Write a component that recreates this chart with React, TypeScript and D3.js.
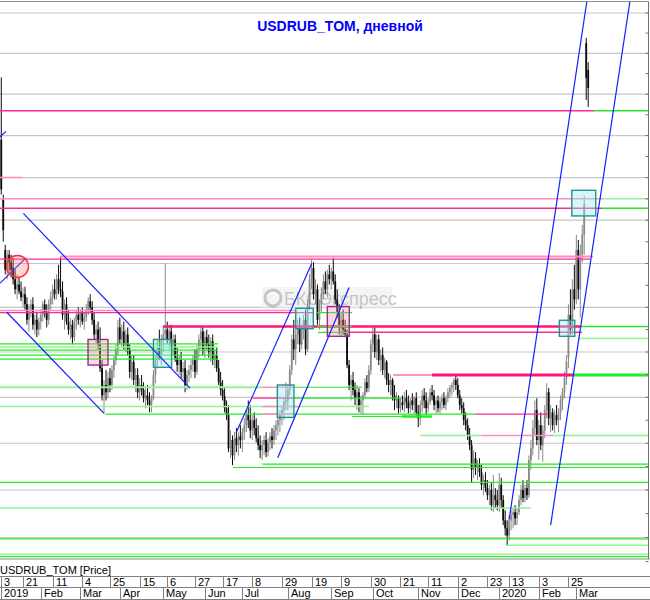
import React from 'react';
import * as d3 from 'd3';

// open, high, low, close (RUB per USD), one entry per trading day
type Bar = [number, number, number, number];

const jan19: Bar[] = [
  [69.90, 71.41, 68.60, 68.72], [68.48, 68.60, 67.50, 67.77], [67.31, 67.43, 66.75, 66.86], [66.90, 67.31, 66.64, 67.20],
  [67.20, 67.31, 66.82, 67.03], [67.03, 67.20, 66.68, 66.86], [66.90, 67.13, 66.52, 66.64], [66.64, 66.86, 66.30, 66.41],
  [66.41, 66.75, 66.18, 66.52], [66.52, 66.68, 66.30, 66.36], [66.36, 66.59, 66.14, 66.23], [66.23, 66.45, 66.00, 66.30],
  [66.30, 66.47, 65.95, 66.07], [66.07, 66.23, 65.61, 65.72], [65.72, 66.07, 65.46, 65.95], [65.95, 66.18, 65.77, 66.07],
  [66.07, 66.23, 65.50, 65.61], [65.61, 65.83, 65.39, 65.72], [65.72, 65.90, 65.33, 65.50], [65.50, 65.77, 65.37, 65.68],
];
const feb19: Bar[] = [
  [65.68, 65.95, 65.50, 65.83], [65.83, 66.14, 65.68, 66.07], [66.07, 66.18, 65.77, 65.90], [65.90, 66.07, 65.55, 65.72],
  [65.72, 66.18, 65.61, 66.07], [66.07, 66.36, 65.95, 66.23], [66.23, 66.52, 66.07, 66.41], [66.41, 66.64, 66.18, 66.30],
  [66.30, 66.75, 66.18, 66.64], [66.64, 66.97, 66.30, 66.41], [66.41, 67.15, 66.23, 66.36], [66.36, 66.59, 65.72, 65.83],
  [65.83, 66.18, 65.50, 66.07], [66.07, 66.23, 65.61, 65.68], [65.68, 65.95, 65.39, 65.50], [65.50, 65.77, 65.28, 65.61],
  [65.61, 65.72, 65.17, 65.33], [65.33, 65.77, 65.24, 65.68], [65.68, 65.95, 65.50, 65.83], [65.83, 66.00, 65.61, 65.72],
];
const mar19: Bar[] = [
  [65.72, 65.95, 65.55, 65.90], [65.90, 66.00, 65.61, 65.68], [65.68, 65.90, 65.50, 65.77], [65.77, 66.07, 65.68, 65.95],
  [65.95, 66.23, 65.83, 66.14], [66.14, 66.30, 65.90, 66.00], [66.00, 66.14, 65.61, 65.72], [65.72, 65.90, 65.28, 65.39],
  [65.39, 65.61, 65.17, 65.50], [65.50, 65.68, 65.06, 65.17], [65.17, 65.55, 64.56, 64.64], [64.64, 64.82, 63.93, 64.04],
  [64.04, 64.38, 63.65, 64.27], [64.27, 64.60, 63.93, 64.11], [64.11, 64.56, 63.98, 64.42], [64.42, 64.64, 64.11, 64.27],
  [64.27, 64.71, 64.16, 64.60], [64.60, 64.93, 64.42, 64.82], [64.82, 65.17, 64.71, 65.06], [65.06, 65.72, 64.93, 65.55],
];
const apr19: Bar[] = [
  [65.55, 65.77, 65.17, 65.28], [65.28, 65.61, 65.10, 65.46], [65.46, 65.68, 65.06, 65.17], [65.17, 65.50, 65.00, 65.39],
  [65.39, 65.55, 64.93, 65.06], [65.06, 65.17, 64.42, 64.56], [64.56, 64.93, 64.38, 64.78], [64.78, 64.93, 64.27, 64.38],
  [64.38, 64.64, 64.11, 64.49], [64.49, 64.64, 63.98, 64.11], [64.11, 64.42, 63.93, 64.27], [64.27, 64.49, 64.04, 64.16],
  [64.16, 64.33, 63.89, 63.98], [63.98, 64.20, 63.76, 64.04], [64.04, 64.27, 63.83, 63.93], [63.93, 64.11, 63.67, 63.83],
  [63.83, 64.04, 63.67, 63.98], [63.98, 64.60, 63.93, 64.49], [64.49, 64.93, 64.31, 64.82], [64.82, 65.28, 64.64, 65.10],
  [65.10, 65.50, 64.82, 64.93], [64.93, 65.39, 64.71, 65.28],
];
const may19: Bar[] = [
  [65.28, 65.55, 65.00, 65.39], [65.39, 67.00, 65.28, 65.50], [65.50, 65.68, 65.17, 65.28], [65.28, 65.61, 65.06, 65.46],
  [65.46, 65.61, 65.10, 65.17], [65.17, 65.39, 64.93, 65.28], [65.28, 65.39, 64.78, 64.87], [64.87, 65.10, 64.56, 64.71],
  [64.71, 64.93, 64.49, 64.82], [64.82, 65.00, 64.42, 64.56], [64.56, 64.78, 64.38, 64.64], [64.64, 64.82, 64.11, 64.27],
  [64.27, 64.60, 64.16, 64.49], [64.49, 64.71, 64.33, 64.60], [64.60, 64.82, 64.42, 64.71], [64.71, 64.93, 64.56, 64.82],
  [64.82, 65.06, 64.42, 64.56], [64.56, 65.17, 64.49, 65.06], [65.06, 65.39, 64.87, 65.28], [65.28, 65.55, 65.06, 65.46],
  [65.46, 65.57, 64.93, 65.06],
];
const jun19: Bar[] = [
  [65.06, 65.46, 64.87, 65.33], [65.33, 65.50, 65.06, 65.17], [65.17, 65.39, 64.87, 65.00], [65.00, 65.33, 64.78, 65.24],
  [65.24, 65.39, 64.71, 64.82], [64.82, 65.06, 64.64, 64.93], [64.93, 65.10, 64.56, 64.64], [64.64, 64.82, 64.27, 64.33],
  [64.33, 64.56, 64.04, 64.16], [64.16, 64.38, 63.93, 64.02], [64.02, 64.20, 63.67, 63.76], [63.76, 63.93, 63.50, 63.61],
  [63.61, 63.83, 62.81, 62.89], [62.89, 63.28, 62.68, 63.07], [63.07, 63.17, 62.53, 62.74], [62.74, 63.24, 62.64, 63.11],
  [63.11, 63.33, 62.81, 62.96], [62.96, 63.24, 62.74, 63.15], [63.15, 63.39, 62.89, 63.07],
];
const jul19: Bar[] = [
  [63.07, 63.33, 62.81, 63.24], [63.24, 63.54, 63.07, 63.39], [63.39, 63.72, 63.24, 63.61], [63.61, 63.93, 63.33, 63.50],
  [63.50, 63.83, 63.11, 63.28], [63.28, 63.61, 63.07, 63.50], [63.50, 63.67, 63.17, 63.33], [63.33, 63.54, 63.02, 63.11],
  [63.11, 63.39, 62.85, 62.96], [62.96, 63.17, 62.68, 62.85], [62.85, 63.07, 62.64, 62.96], [62.96, 63.17, 62.74, 63.07],
  [63.07, 63.24, 62.70, 62.81], [62.81, 63.11, 62.72, 63.02], [63.02, 63.24, 62.85, 63.15], [63.15, 63.33, 62.89, 63.07],
  [63.07, 63.39, 62.96, 63.28], [63.28, 63.50, 63.07, 63.39], [63.39, 63.61, 63.17, 63.50], [63.50, 63.72, 63.24, 63.61],
  [63.61, 63.83, 63.39, 63.72], [63.72, 63.98, 63.50, 63.89], [63.89, 64.33, 63.72, 63.93],
];
const aug19: Bar[] = [
  [63.93, 64.27, 63.72, 64.16], [64.16, 64.71, 64.04, 64.60], [64.60, 65.39, 64.49, 65.28], [65.28, 65.72, 64.82, 65.06],
  [65.06, 65.50, 64.71, 65.39], [65.39, 65.72, 65.17, 65.55], [65.55, 65.77, 65.00, 65.17], [65.17, 65.61, 65.06, 65.50],
  [65.50, 65.83, 65.28, 65.72], [65.72, 65.95, 64.93, 65.06], [65.06, 66.18, 65.00, 66.07], [66.07, 66.75, 65.95, 66.64],
  [66.64, 67.08, 66.41, 66.90], [66.90, 67.03, 66.18, 66.30], [66.30, 66.64, 66.07, 66.41], [66.41, 66.52, 65.61, 65.72],
  [65.72, 66.18, 65.50, 66.07], [66.07, 66.45, 65.90, 66.30], [66.30, 66.75, 66.18, 66.59], [66.59, 66.82, 66.30, 66.41],
  [66.41, 66.86, 66.23, 66.75], [66.75, 66.97, 66.52, 66.64],
];
const sep19: Bar[] = [
  [66.64, 66.90, 66.41, 66.82], [66.82, 67.13, 66.52, 66.59], [66.59, 66.75, 66.07, 66.18], [66.18, 66.41, 65.77, 65.90],
  [65.90, 66.07, 65.39, 65.61], [65.61, 65.90, 65.33, 65.72], [65.72, 65.95, 65.39, 65.50], [65.50, 65.72, 65.33, 65.39],
  [65.39, 65.50, 64.64, 64.71], [64.71, 64.82, 64.16, 64.27], [64.27, 64.49, 63.93, 64.38], [64.38, 64.56, 64.04, 64.16],
  [64.16, 64.33, 63.83, 63.98], [63.98, 64.27, 63.72, 64.11], [64.11, 64.20, 63.67, 63.83], [63.83, 64.04, 63.65, 63.93],
  [63.93, 64.11, 63.61, 64.04], [64.04, 64.42, 63.98, 64.33], [64.33, 64.49, 64.11, 64.20], [64.20, 64.71, 64.11, 64.60],
  [64.60, 65.28, 64.49, 65.17],
];
const oct19: Bar[] = [
  [65.17, 65.57, 65.00, 65.39], [65.39, 65.55, 64.87, 65.00], [65.00, 65.39, 64.82, 65.28], [65.28, 65.39, 64.71, 64.82],
  [64.82, 65.06, 64.56, 64.93], [64.93, 65.10, 64.49, 64.60], [64.60, 64.87, 64.42, 64.78], [64.78, 64.82, 64.27, 64.38],
  [64.38, 64.53, 64.11, 64.27], [64.27, 64.49, 64.04, 64.38], [64.38, 64.42, 63.93, 64.04], [64.04, 64.27, 63.72, 63.93],
  [63.93, 64.11, 63.76, 63.98], [63.98, 64.04, 63.65, 63.76], [63.76, 63.98, 63.67, 63.89], [63.89, 64.04, 63.72, 63.83],
  [63.83, 64.11, 63.67, 63.98], [63.98, 64.16, 63.76, 63.89], [63.89, 64.04, 63.65, 63.76], [63.76, 63.98, 63.67, 63.93],
  [63.93, 64.09, 63.72, 63.83], [63.83, 64.02, 63.65, 63.98], [63.98, 64.11, 63.61, 63.67],
];
const nov19: Bar[] = [
  [63.67, 63.83, 63.35, 63.54], [63.54, 63.93, 63.39, 63.83], [63.83, 64.16, 63.67, 64.04], [64.04, 64.20, 63.76, 63.93],
  [63.93, 64.11, 63.61, 63.76], [63.76, 63.98, 63.67, 63.89], [63.89, 64.20, 63.83, 64.11], [64.11, 64.27, 63.93, 64.04],
  [64.04, 64.16, 63.72, 63.83], [63.83, 63.98, 63.65, 63.93], [63.93, 64.04, 63.67, 63.76], [63.76, 63.98, 63.65, 63.89],
  [63.89, 64.07, 63.72, 63.98], [63.98, 64.11, 63.76, 63.83], [63.83, 64.04, 63.72, 63.98], [63.98, 64.20, 63.89, 64.11],
  [64.11, 64.27, 63.98, 64.20], [64.20, 64.33, 64.04, 64.27], [64.27, 64.42, 64.11, 64.38], [64.38, 64.47, 64.16, 64.27],
];
const dec19: Bar[] = [
  [64.27, 64.42, 63.98, 64.04], [64.04, 64.16, 63.72, 63.83], [63.83, 63.98, 63.65, 63.76], [63.76, 63.89, 63.39, 63.50],
  [63.50, 63.67, 63.28, 63.39], [63.39, 63.54, 63.07, 63.17], [63.17, 63.33, 62.85, 62.96], [62.96, 63.07, 62.15, 62.43],
  [62.43, 62.85, 62.26, 62.68], [62.68, 62.81, 62.32, 62.47], [62.47, 62.64, 62.21, 62.53], [62.53, 62.68, 62.28, 62.38],
  [62.38, 62.53, 62.00, 62.11], [62.11, 62.32, 61.89, 62.21], [62.21, 62.38, 61.96, 62.04], [62.04, 62.21, 61.79, 61.89],
  [61.89, 62.11, 61.68, 62.00], [62.00, 62.15, 61.57, 61.68], [61.68, 62.32, 61.53, 61.89], [61.89, 62.04, 61.62, 61.79],
  [61.79, 62.00, 61.57, 61.68],
];
const jan20: Bar[] = [
  [61.68, 62.36, 61.53, 62.11], [62.11, 62.26, 61.62, 61.79], [61.79, 61.89, 61.26, 61.36], [61.36, 61.57, 61.04, 61.19],
  [61.19, 61.36, 60.83, 61.04], [61.04, 61.47, 60.94, 61.36], [61.36, 61.57, 61.15, 61.47], [61.47, 61.62, 61.19, 61.53],
  [61.53, 61.68, 61.26, 61.40], [61.40, 61.62, 61.26, 61.53], [61.53, 61.89, 61.47, 61.79], [61.79, 62.11, 61.68, 62.00],
  [62.00, 62.21, 61.74, 61.83], [61.83, 62.11, 61.74, 62.04], [62.04, 62.21, 61.79, 61.89], [61.89, 62.74, 61.83, 62.64],
  [62.64, 63.07, 62.43, 62.89], [62.89, 63.50, 62.74, 63.33], [63.33, 63.93, 63.17, 63.72], [63.72, 63.98, 62.96, 63.07],
];
const feb20: Bar[] = [
  [63.07, 63.50, 62.64, 63.39], [63.39, 63.67, 62.85, 62.96], [62.96, 63.39, 62.60, 63.28], [63.28, 63.83, 63.11, 63.72],
  [63.72, 64.31, 63.54, 64.11], [64.11, 64.20, 63.39, 63.54], [63.54, 63.83, 63.24, 63.67], [63.67, 63.76, 63.28, 63.39],
  [63.39, 63.72, 63.22, 63.61], [63.61, 63.83, 63.39, 63.50], [63.50, 63.76, 63.24, 63.67], [63.67, 64.04, 63.50, 63.93],
  [63.93, 64.20, 63.72, 64.11], [64.11, 64.56, 63.98, 64.42], [64.42, 64.93, 64.27, 64.78], [64.87, 66.07, 64.64, 65.83],
  [65.83, 66.41, 65.39, 65.50], [65.50, 66.64, 65.39, 66.41], [66.41, 66.97, 65.95, 66.18],
];
const mar20: Bar[] = [
  [66.18, 67.66, 66.07, 67.31], [67.31, 67.54, 66.18, 66.41], [66.41, 67.43, 65.77, 67.20], [67.20, 67.89, 67.03, 67.66],
  [67.66, 68.58, 67.20, 68.37], [72.25, 72.38, 70.86, 71.39], [71.59, 71.78, 70.69, 71.15],
];

const holidays = [
  '2019-01-01', '2019-01-02', '2019-01-07', '2019-03-08', '2019-05-01', '2019-05-09', '2019-06-12',
  '2019-11-04', '2019-12-31', '2020-01-01', '2020-01-02', '2020-01-07', '2020-02-24', '2020-03-09',
];

const dayTicks = [
  '2019-01-03', '2019-01-21', '2019-02-11', '2019-03-04', '2019-03-25', '2019-04-15', '2019-05-06',
  '2019-05-27', '2019-06-17', '2019-07-08', '2019-07-29', '2019-08-19', '2019-09-09', '2019-09-30',
  '2019-10-21', '2019-11-11', '2019-12-02', '2019-12-23', '2020-01-13', '2020-02-03', '2020-02-25',
];

const monthNames = ['2019', 'Feb', 'Mar', 'Apr', 'May', 'Jun', 'Jul', 'Aug', 'Sep', 'Oct', 'Nov', 'Dec', '2020', 'Feb', 'Mar'];

// horizontal levels: from bar, to bar, price, colour, width
const levels: [number, number, number, string, number][] = [
  [-2, 300, 70.60, 'pink', 1.5], [300, 330, 70.60, 'green', 1.5],
  [-2, 10.5, 69.00, 'pinkL', 1.5],
  [-2, 304.5, 68.50, 'pinkL', 1.5], [304.5, 330, 68.50, 'greenL', 1.5],
  [-2, 304, 68.28, 'pink', 1.5], [304, 330, 68.28, 'green', 1.5],
  [29.7, 299.5, 67.16, 'pinkL', 2], [-2, 298, 67.10, 'pink', 1.2],
  [-2, 148.6, 65.93, 'pinkL', 1.5], [-2, 157.8, 65.88, 'pink', 1.2], [159.8, 177.5, 65.88, 'green', 1.2],
  [81.8, 292.9, 65.57, 'pinkD', 2.5], [159.8, 177.5, 65.57, 'green', 1.5], [292.9, 330, 65.57, 'green', 1.5],
  [174, 293.9, 65.44, 'pink', 1.5], [160.3, 176.5, 65.44, 'green', 1.2],
  [292.4, 330, 65.30, 'greenL', 1.5],
  [-2, 109.7, 65.18, 'green', 1.2], [-2, 109.7, 65.11, 'greenL', 1.5], [-2, 109.7, 65.04, 'green', 1.2],
  [-2, 109.7, 64.93, 'green', 1.2], [-2, 109.7, 64.84, 'green', 1.2],
  [198.3, 218, 64.49, 'pink', 1.2], [218, 289.3, 64.49, 'pinkD', 3], [289.3, 330, 64.49, 'green', 3],
  [-2, 132, 64.22, 'greenL', 2], [132, 147.6, 64.22, 'pinkL', 1.5], [147.6, 182.6, 64.22, 'green', 1.2],
  [127.4, 147.6, 63.98, 'pink', 1.2], [147.6, 202.8, 63.98, 'green', 1.2],
  [-2, 186.1, 63.80, 'greenL', 1.5], [132, 150.2, 63.80, 'pinkL', 1.5],
  [52.5, 239.7, 63.63, 'green', 1.2], [132, 148.1, 63.63, 'pinkL', 1.5], [239.7, 276.7, 63.63, 'pink', 1.2],
  [177.5, 217.5, 63.58, 'green', 1.2], [202.8, 218, 63.58, 'green', 2.5],
  [212, 242.8, 63.17, 'greenL', 1.5], [242.8, 279.2, 63.17, 'pinkL', 1.5], [279.2, 330, 63.17, 'greenL', 1.5],
  [132, 330, 62.55, 'green', 1.2], [117.3, 330, 62.48, 'green', 1.2],
  [-2, 330, 62.16, 'green', 1.2], [-2, 268.1, 61.62, 'greenL', 1.5],
  [-2, 330, 60.97, 'green', 1.2], [256, 330, 60.84, 'greenL', 1.5],
  [-2, 330, 60.65, 'greenL', 1.5], [-2, 330, 60.60, 'green', 1.2],
];

// boxes: kind, from bar, to bar, top price, bottom price
const boxes: [string, number, number, number, number][] = [
  ['purple', 43.9, 54.0, 65.28, 64.71],
  ['cyan', 77.0, 86.2, 65.28, 64.66],
  ['cyan', 139.7, 148.1, 64.27, 63.56],
  ['cyan', 149.0, 157.9, 65.98, 65.52],
  ['purple', 165.0, 176.1, 66.02, 65.35],
  ['cyan', 282.4, 290.2, 65.71, 65.35],
  ['cyan', 288.7, 300.8, 68.70, 68.10],
];

// trend lines: [bar, price] -> [bar, price]
const trends: [number, number, number, number][] = [
  [-0.6, 69.97, 2.4, 70.10],
  [-0.6, 66.55, 12.5, 67.13],
  [11.2, 68.16, 95.5, 64.20],
  [2.75, 65.89, 52.0, 63.65],
  [118.8, 63.22, 157.1, 67.00],
  [139.9, 62.69, 176.0, 66.45],
  [257.0, 61.38, 296.4, 73.32],
  [278.0, 61.26, 318.2, 73.32],
];

const marker = { bar: 8.2, price: 66.93 };

const colors: Record<string, string> = {
  pink: '#ff2a90',
  pinkD: '#ff1478',
  pinkL: '#ff8cc4',
  green: '#22ec22',
  greenL: '#8cf78c',
};

const FONT = 'Liberation Sans, Arial, sans-serif';

export default function App() {
  const bars = [jan19, feb19, mar19, apr19, may19, jun19, jul19, aug19, sep19, oct19, nov19, dec19, jan20, feb20, mar20].flat();
  const fmt = d3.timeFormat('%Y-%m-%d');
  const days = d3.timeDay
    .range(new Date(2019, 0, 1), new Date(2020, 2, 12))
    .filter(d => d.getDay() !== 0 && d.getDay() !== 6 && !holidays.includes(fmt(d)))
    .slice(0, bars.length);

  const x = d3.scaleLinear().domain([0, 297]).range([1.27, 588.2]);
  const y = d3.scaleLog().domain([62, 73]).range([490, 13]);

  const right = 648.5;
  const top = 1.5;
  const bottom = 559;

  const gridPrices = d3.range(61, 74);
  const tickPrices = d3.range(60.5, 73.51, 0.5);

  const monthStarts: number[] = [];
  days.forEach((d, i) => {
    if (i === 0 || d.getMonth() !== days[i - 1].getMonth()) monthStarts.push(i);
  });
  const dayIdx = dayTicks.map(s => days.findIndex(d => fmt(d) === s));

  return (
    <svg width={650} height={600} style={{ position: 'absolute', left: 0, top: 0, background: '#fff' }}>
      <defs>
        <clipPath id="plot">
          <rect x={0} y={top} width={right} height={bottom - top} />
        </clipPath>
      </defs>

      <g clipPath="url(#plot)">
        {gridPrices.map(p => (
          <line key={p} x1={0} x2={right} y1={y(p)} y2={y(p)} stroke="#c6c6c6" strokeWidth={1.2} />
        ))}

        {/* watermark */}
        <g opacity={0.6}>
          <rect x={262} y={287} width={130} height={22} fill="#eeeeee" />
          <circle cx={273} cy={298} r={8} fill="none" stroke="#a0a0a0" strokeWidth={3} />
          <path d="M268,295 Q273,290 279,296" fill="none" stroke="#fff" strokeWidth={1.5} />
          <text x={284} y={305} fontFamily={FONT} fontSize={18} fill="#a0a0a0">БКСЭкспресс</text>
        </g>

        {bars.map(([o, h, l, c], i) => {
          const up = c >= o;
          const col = up ? '#8a8a8a' : '#0a0a0a';
          const cx = x(i);
          const y0 = Math.min(y(o), y(c));
          const y1 = Math.max(y(o), y(c));
          return (
            <g key={i}>
              <line x1={cx} x2={cx} y1={y(h)} y2={y(l)} stroke={col} strokeWidth={1} />
              <rect x={cx - 0.9} width={1.8} y={y0} height={Math.max(1, y1 - y0)} fill={col} />
            </g>
          );
        })}

        {levels.map(([a, b, p, c, w], i) => (
          <line key={i} x1={x(a)} x2={x(b)} y1={y(p)} y2={y(p)} stroke={colors[c]} strokeWidth={w} />
        ))}

        {boxes.map(([kind, a, b, p1, p2], i) => (
          <rect
            key={i}
            x={x(a)}
            y={y(p1)}
            width={x(b) - x(a)}
            height={y(p2) - y(p1)}
            fill={kind === 'cyan' ? 'rgba(150,235,240,0.4)' : 'rgba(240,150,170,0.35)'}
            stroke={kind === 'cyan' ? '#2a8f8f' : '#9b2d8e'}
            strokeWidth={1.4}
          />
        ))}

        {trends.map(([a, p1, b, p2], i) => (
          <line key={i} x1={x(a)} y1={y(p1)} x2={x(b)} y2={y(p2)} stroke="#1020ff" strokeWidth={1.2} />
        ))}

        <circle cx={x(marker.bar)} cy={y(marker.price)} r={11} fill="rgba(255,120,120,0.3)" stroke="#ff3030" strokeWidth={1.4} />
      </g>

      {/* frame and right scale */}
      <line x1={0} x2={right} y1={top} y2={top} stroke="#8c8c8c" />
      <line x1={0} x2={650} y1={bottom} y2={bottom} stroke="#8c8c8c" />
      <line x1={right} x2={right} y1={top} y2={bottom} stroke="#707070" />
      {tickPrices.map(p => (
        <line key={p} x1={right - 3} x2={right} y1={y(p)} y2={y(p)} stroke="#707070" />
      ))}

      <text x={340} y={31} textAnchor="middle" fontFamily={FONT} fontWeight="bold" fontSize={14} fill="#0000ff">
        USDRUB_TOM, дневной
      </text>

      {/* time axis */}
      <text x={0} y={574} fontFamily={FONT} fontSize={11} fill="#000">USDRUB_TOM [Price]</text>
      <line x1={0} x2={650} y1={576.5} y2={576.5} stroke="#808080" />
      <line x1={0} x2={650} y1={587.5} y2={587.5} stroke="#808080" />
      <line x1={0} x2={650} y1={599.5} y2={599.5} stroke="#808080" />
      {dayIdx.map((i, k) => {
        const px = Math.round(x(i)) + 0.5;
        return (
          <g key={k}>
            <line x1={px} x2={px} y1={576.5} y2={587.5} stroke="#808080" />
            <text x={px + 2.5} y={585.5} fontFamily={FONT} fontSize={11} fill="#000">{days[i].getDate()}</text>
          </g>
        );
      })}
      {monthStarts.map((i, k) => {
        const px = Math.round(x(i)) + 0.5;
        return (
          <g key={k}>
            <line x1={px} x2={px} y1={587.5} y2={599.5} stroke="#808080" />
            <text x={px + 2.5} y={597} fontFamily={FONT} fontSize={11} fill="#000">{monthNames[k]}</text>
          </g>
        );
      })}
    </svg>
  );
}
